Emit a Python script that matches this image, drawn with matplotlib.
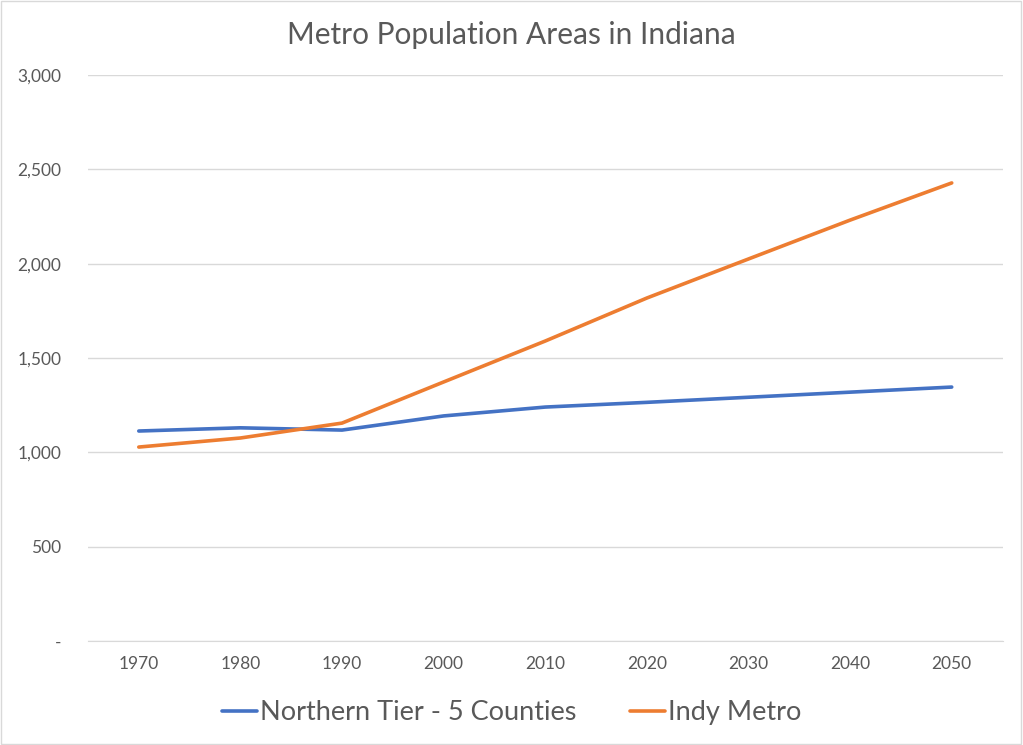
import matplotlib.pyplot as plt
from matplotlib.ticker import FuncFormatter

years = ['1970', '1980', '1990', '2000', '2010', '2020', '2030', '2040', '2050']
northern_tier = [1113, 1130, 1118, 1193, 1240, 1265, 1292, 1319, 1346]
indy_metro = [1028, 1076, 1155, 1373, 1590, 1818, 2025, 2231, 2428]

plt.rcParams['font.family'] = ['Lato', 'DejaVu Sans']
txt = '#595959'

fig = plt.figure(figsize=(10.23, 7.45), dpi=100)
ax = fig.add_axes([0.086, 0.1396, 0.894, 0.7597])

x = list(range(len(years)))
ax.plot(x, northern_tier, color='#4472C4', lw=2.6, label='Northern Tier - 5 Counties',
        solid_capstyle='round')
ax.plot(x, indy_metro, color='#ED7D31', lw=2.6, label='Indy Metro',
        solid_capstyle='round')

ax.set_xlim(-0.5, len(years) - 0.5)
ax.set_ylim(0, 3000)
ax.set_yticks(range(0, 3001, 500))
ax.yaxis.set_major_formatter(FuncFormatter(lambda v, p: '-' if v == 0 else f'{int(v):,}'))
ax.set_xticks(x)
ax.set_xticklabels(years)
ax.grid(axis='y', color='#D9D9D9', lw=1)
ax.set_axisbelow(True)
for s in ['top', 'right', 'left']:
    ax.spines[s].set_visible(False)
ax.spines['bottom'].set_color('#D9D9D9')
ax.tick_params(length=0, colors=txt, labelsize=12.5)
ax.tick_params(axis='y', pad=19)
ax.tick_params(axis='x', pad=11)

fig.text(0.5, 0.953, 'Metro Population Areas in Indiana', ha='center', va='center',
         fontsize=21.5, color=txt)

leg = ax.legend(loc='center', bbox_to_anchor=(0.5, 0.043), bbox_transform=fig.transFigure,
                ncol=2, frameon=False, fontsize=19.5, handlelength=1.3, handletextpad=0.1,
                columnspacing=2.0, labelcolor=txt)

fig.patches.append(plt.Rectangle((0.0005, 0.0007), 0.998, 0.998, transform=fig.transFigure,
                                 fill=False, edgecolor='#D9D9D9', lw=1))

fig.savefig('out.png', dpi=100)
